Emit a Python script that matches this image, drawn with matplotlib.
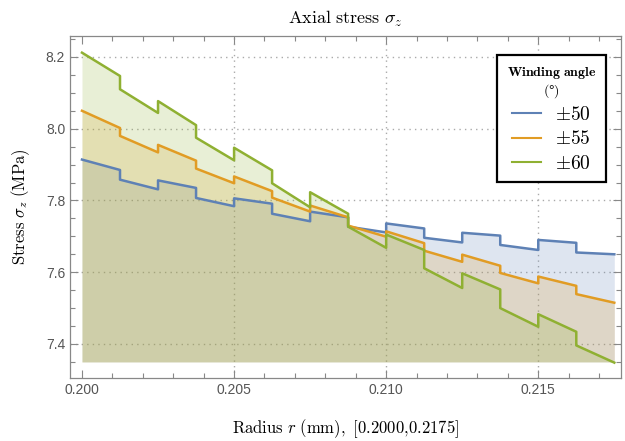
import matplotlib.pyplot as plt
from matplotlib.ticker import MultipleLocator

plt.rcParams['mathtext.fontset'] = 'cm'
plt.rcParams['font.family'] = ['Liberation Sans', 'DejaVu Sans']

# layer boundaries (radius) and the stress at the start / end of each layer
edges = [0.2, 0.20125, 0.2025, 0.20375, 0.205, 0.20625, 0.2075, 0.20875,
         0.21, 0.21125, 0.2125, 0.21375, 0.215, 0.21625, 0.2175]

blue_start = [7.914, 7.858, 7.856, 7.807, 7.806, 7.763, 7.769, 7.727, 7.736, 7.696, 7.710, 7.676, 7.690, 7.655]
blue_end = [7.885, 7.831, 7.835, 7.784, 7.791, 7.742, 7.753, 7.711, 7.722, 7.683, 7.702, 7.662, 7.682, 7.650]

orange_start = [8.050, 7.980, 7.955, 7.889, 7.867, 7.808, 7.786, 7.730, 7.714, 7.660, 7.649, 7.598, 7.588, 7.539]
orange_end = [8.002, 7.934, 7.911, 7.848, 7.826, 7.769, 7.753, 7.699, 7.681, 7.629, 7.618, 7.569, 7.562, 7.515]

green_start = [8.212, 8.110, 8.077, 7.975, 7.947, 7.848, 7.823, 7.727, 7.705, 7.611, 7.597, 7.500, 7.483, 7.396]
green_end = [8.147, 8.044, 8.010, 7.912, 7.884, 7.781, 7.763, 7.668, 7.662, 7.556, 7.552, 7.448, 7.434, 7.348]

labels = [r'$\pm 50$', r'$\pm 55$', r'$\pm 60$']
colors = ['#5e81b5', '#e19c24', '#8fb032']
base = 7.35


def steps(start, end):
    xs, ys = [], []
    for i in range(len(start)):
        xs += [edges[i], edges[i + 1]]
        ys += [start[i], end[i]]
    return xs, ys


fig = plt.figure(figsize=(6.25, 4.41), dpi=100)
ax = fig.add_axes([0.112, 0.1429, 0.8816, 0.7755])

series = [(blue_start, blue_end), (orange_start, orange_end), (green_start, green_end)]
for (st, en), lab, col in zip(series, labels, colors):
    x, y = steps(st, en)
    ax.fill_between(x, y, base, color=col, alpha=0.2, lw=0, zorder=2)
    ax.plot(x, y, color=col, lw=1.8, label=lab, zorder=3)

ax.set_xlim(0.199606, 0.21772)
ax.set_ylim(7.3052, 8.2585)
ax.set_xticks([0.2, 0.205, 0.21, 0.215])
ax.set_xticklabels(['0.200', '0.205', '0.210', '0.215'])
ax.set_yticks([7.4, 7.6, 7.8, 8.0, 8.2])
ax.set_yticklabels(['7.4', '7.6', '7.8', '8.0', '8.2'])
ax.xaxis.set_minor_locator(MultipleLocator(0.001))
ax.yaxis.set_minor_locator(MultipleLocator(0.05))
ax.tick_params(which='both', direction='in', top=True, right=True, color='#888888',
               labelcolor='#555555', labelsize=10, width=0.8)
ax.tick_params(which='major', length=6)
ax.tick_params(which='minor', length=3.5)
for s in ax.spines.values():
    s.set_color('#888888')
    s.set_linewidth(0.9)

ax.grid(True, which='major', color='#aaaaaa', linestyle=(0, (1, 3)), lw=1.0, zorder=1)
ax.xaxis.get_gridlines()[0].set_visible(False)
ax.set_axisbelow(True)

ax.set_title(r'$\mathrm{Axial\ stress}\ \sigma_z$', fontsize=13, pad=9)
ax.set_xlabel(r'$\mathrm{Radius}\ r\ \mathrm{(mm),\ [0.2000{,}0.2175]}$', fontsize=12, labelpad=15)
ax.set_ylabel(r'$\mathrm{Stress}\ \sigma_z\ \mathrm{(MPa)}$', fontsize=12, labelpad=10)

leg = ax.legend(title=r'$\mathbf{Winding\ angle}$' + '\n' + r'$\mathbf{(\degree)}$',
                loc='upper right', bbox_to_anchor=(0.973, 0.944), borderaxespad=0,
                fontsize=14, title_fontsize=10, fancybox=False, framealpha=1,
                edgecolor='black', handlelength=1.45, handletextpad=0.75,
                labelspacing=0.32, borderpad=0.5)
leg.get_frame().set_linewidth(1.6)
leg.get_title().set_multialignment('center')
leg.get_title().set_linespacing(1.1)
for h in leg.legend_handles:
    h.set_linewidth(1.5)

fig.savefig('out.png', dpi=100)
